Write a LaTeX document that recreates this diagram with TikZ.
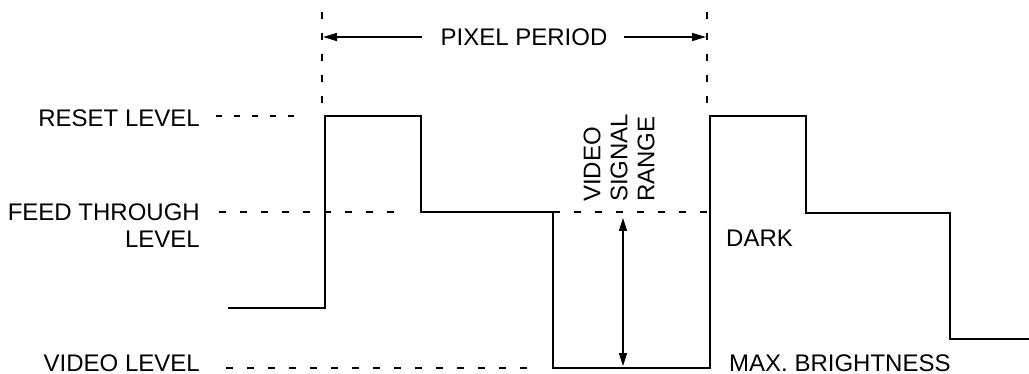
\documentclass[tikz,border=0pt]{standalone}
\usepackage{fontspec}
\setmainfont{Liberation Sans}
\usetikzlibrary{arrows.meta}
\begin{document}
\begin{tikzpicture}[x=1pt,y=-1pt,
  wave/.style={line width=2.2pt},
  guide/.style={line width=1.9pt,dash pattern=on 7pt off 14pt},
  shortguide/.style={line width=1.9pt,dash pattern=on 6pt off 12pt},
  lbl/.style={font=\fontsize{24}{27}\selectfont, inner sep=0pt},
  dimarrow/.style={line width=1.5pt,-{Triangle[length=14pt,width=8pt]}},
  dimboth/.style={line width=1.5pt,{Triangle[length=13pt,width=8pt]}-{Triangle[length=13pt,width=8pt]}}]
\useasboundingbox (0,0) rectangle (1029,374);

% waveform
\coordinate (w0) at (228,308);
\coordinate (w1) at (325,308);
\coordinate (w2) at (325,116);
\coordinate (w3) at (421,116);
\coordinate (w4) at (421,212);
\coordinate (w5) at (553,212);
\coordinate (w6) at (553,368);
\coordinate (w7) at (710,368);
\coordinate (w8) at (710,116);
\coordinate (w9) at (806,116);
\coordinate (w10) at (806,213);
\coordinate (w11) at (950,213);
\coordinate (w12) at (950,339);
\coordinate (w13) at (1030,339);
\draw[wave] (w0) -- (w1) -- (w2) -- (w3) -- (w4) -- (w5) -- (w6) -- (w7) -- (w8) -- (w9) -- (w10) -- (w11) -- (w12) -- (w13);

% pixel period markers
\coordinate (pa) at (322,12);
\coordinate (pb) at (322,112);
\coordinate (pc) at (707,12);
\coordinate (pd) at (707,112);
\draw[guide] (pa) -- (pb);
\draw[guide] (pc) -- (pd);
\node[lbl] (pp) at (524,37) {PIXEL PERIOD};
\coordinate (ppl) at (323,37);
\coordinate (ppr) at (706,37);
\draw[dimarrow] ([xshift=-18pt]pp.west) -- (ppl);
\draw[dimarrow] ([xshift=16pt]pp.east) -- (ppr);

% level labels
\node[lbl,anchor=east] (reset) at (200,118) {RESET LEVEL};
\coordinate (r1) at (216,116);
\coordinate (r2) at (298,116);
\draw[shortguide] (r1) -- (r2);

\node[lbl,anchor=north east,align=right] (feed) at (200,203.5) {FEED THROUGH\\LEVEL};
\coordinate (f1) at (219,212);
\coordinate (f2) at (402,212);
\coordinate (f3) at (553,212);
\coordinate (f4) at (709,212);
\draw[guide] (f1) -- (f2);
\draw[guide] (f3) -- (f4);

\node[lbl,anchor=east] (video) at (200,363) {VIDEO LEVEL};
\coordinate (v1) at (226,368);
\coordinate (v2) at (541,368);
\draw[guide] (v1) -- (v2);

% video signal range
\node[lbl,rotate=90,align=left,anchor=west] (vsr) at (619,202) {VIDEO\\SIGNAL\\RANGE};
\coordinate (a1) at (623,218);
\coordinate (a2) at (623,366);
\draw[dimboth] (a1) -- (a2);

\node[lbl,anchor=west] (dark) at (726,238) {DARK};
\node[lbl,anchor=west] (maxb) at (729,363) {MAX. BRIGHTNESS};
\end{tikzpicture}
\end{document}
